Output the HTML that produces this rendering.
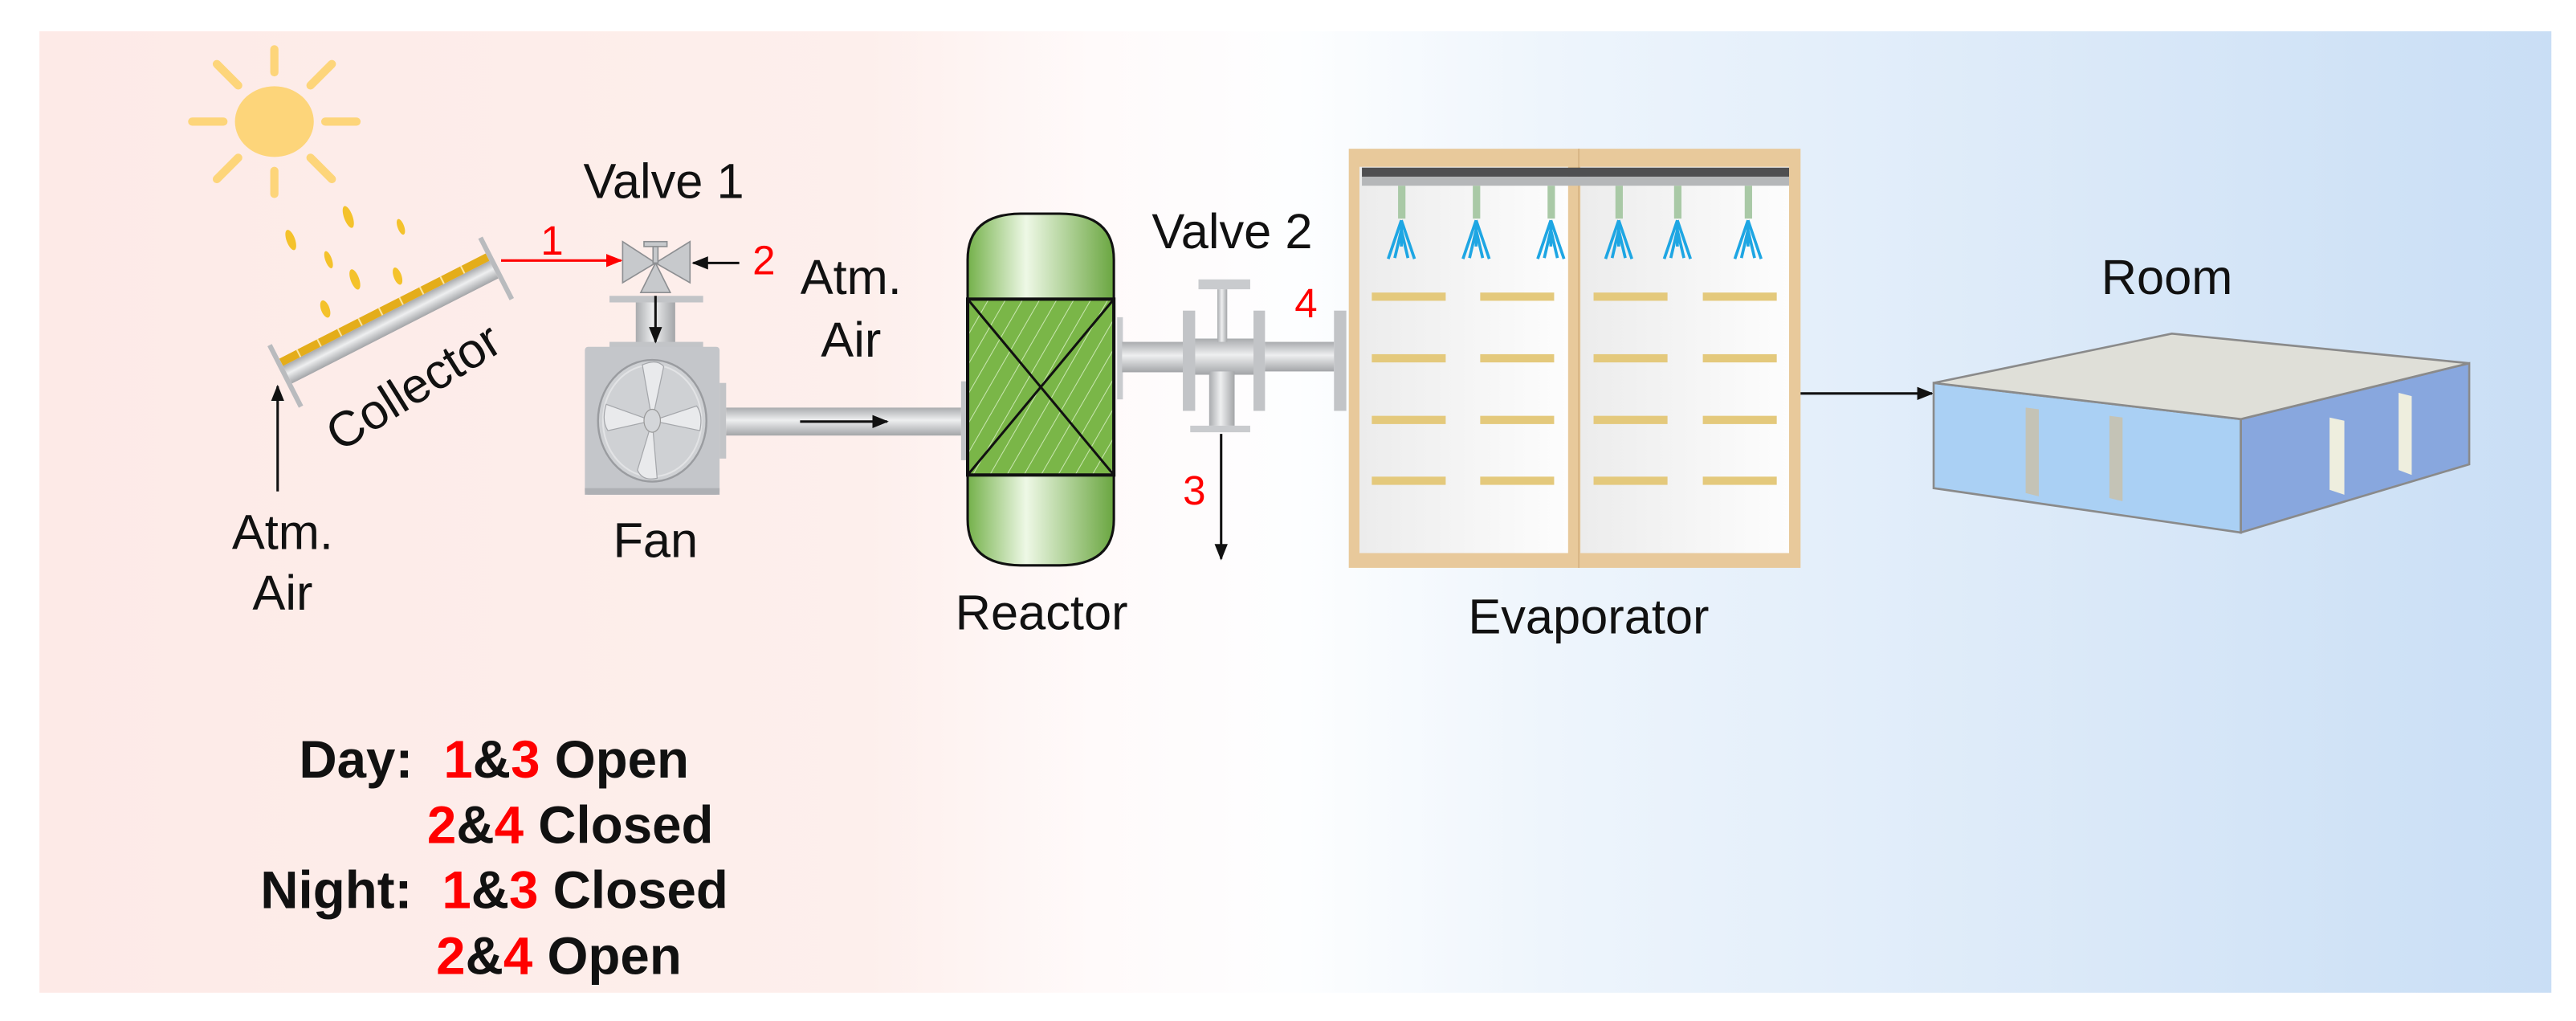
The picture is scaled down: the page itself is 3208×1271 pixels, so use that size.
<!DOCTYPE html>
<html><head><meta charset="utf-8"><style>
html,body{margin:0;padding:0;background:#fff;}
svg{display:block;}
text{font-family:"Liberation Sans",Arial,sans-serif;}
</style></head><body>
<svg width="3208" height="1271" viewBox="0 0 1568 621.2" preserveAspectRatio="none" xmlns="http://www.w3.org/2000/svg">
<defs>
<linearGradient id="bg" x1="0" y1="0" x2="1" y2="0">
<stop offset="0" stop-color="#fdeae7"/><stop offset="0.33" stop-color="#fdefec"/>
<stop offset="0.42" stop-color="#fffafa"/><stop offset="0.5" stop-color="#fdfeff"/>
<stop offset="0.6" stop-color="#eef5fc"/><stop offset="1" stop-color="#c9def5"/></linearGradient>
<linearGradient id="pipeH" x1="0" y1="0" x2="0" y2="1">
<stop offset="0" stop-color="#a9abae"/><stop offset="0.45" stop-color="#eeeff0"/><stop offset="1" stop-color="#a3a5a8"/></linearGradient>
<linearGradient id="pipeV" x1="0" y1="0" x2="1" y2="0">
<stop offset="0" stop-color="#a9abae"/><stop offset="0.45" stop-color="#eeeff0"/><stop offset="1" stop-color="#a3a5a8"/></linearGradient>
<linearGradient id="grn" x1="0" y1="0" x2="1" y2="0">
<stop offset="0" stop-color="#74b14a"/><stop offset="0.4" stop-color="#eef8e6"/><stop offset="1" stop-color="#6aa640"/></linearGradient>
<linearGradient id="inner" x1="0" y1="0" x2="1" y2="0">
<stop offset="0" stop-color="#ececec"/><stop offset="1" stop-color="#fdfdfd"/></linearGradient>
<pattern id="hatch" width="9" height="9" patternUnits="userSpaceOnUse" patternTransform="rotate(30)">
<rect width="9" height="9" fill="#7ab648"/><line x1="0" y1="0" x2="0" y2="9" stroke="#c9e6b0" stroke-width="1"/></pattern>
<marker id="ah" markerWidth="10" markerHeight="10" refX="9" refY="5" orient="auto" markerUnits="userSpaceOnUse"><path d="M0,1 L10,5 L0,9 Z" fill="#111"/></marker>
<marker id="ahr" markerWidth="10" markerHeight="10" refX="9" refY="5" orient="auto" markerUnits="userSpaceOnUse"><path d="M0,1 L10,5 L0,9 Z" fill="#f00"/></marker>
</defs>
<rect x="24" y="19" width="1529" height="585" fill="url(#bg)"/>

<!-- sun -->
<g stroke="#fdd57a" stroke-width="5" stroke-linecap="round" fill="none">
<line x1="198" y1="74" x2="217" y2="74"/><line x1="136" y1="74" x2="117" y2="74"/>
<line x1="167" y1="44" x2="167" y2="30"/><line x1="167" y1="104" x2="167" y2="118"/>
<line x1="189" y1="52" x2="202" y2="39"/><line x1="145" y1="52" x2="132" y2="39"/>
<line x1="189" y1="96" x2="202" y2="109"/><line x1="145" y1="96" x2="132" y2="109"/>
</g>
<ellipse cx="167" cy="74" rx="24" ry="21.5" fill="#fdd57a"/>
<g fill="#f4c22b">
<ellipse cx="212" cy="132" rx="2.6" ry="7" transform="rotate(-20 212 132)"/>
<ellipse cx="244" cy="138" rx="2" ry="5" transform="rotate(-20 244 138)"/>
<ellipse cx="177" cy="146" rx="2.6" ry="6.5" transform="rotate(-20 177 146)"/>
<ellipse cx="200" cy="158" rx="2" ry="5.5" transform="rotate(-20 200 158)"/>
<ellipse cx="216" cy="170" rx="2.6" ry="6.5" transform="rotate(-20 216 170)"/>
<ellipse cx="242" cy="168" rx="2.4" ry="5.5" transform="rotate(-20 242 168)"/>
<ellipse cx="198" cy="188" rx="2.6" ry="5.5" transform="rotate(-20 198 188)"/>
</g>

<!-- collector -->
<g transform="translate(175,228) rotate(-27)">
<rect x="0" y="-6" width="141" height="12" fill="url(#pipeH)"/>
<rect x="0" y="-11" width="141" height="5" fill="#e4ad1a"/>
<g stroke="#fbe5a0" stroke-width="1"><line x1="12" y1="-11" x2="12" y2="-6"/><line x1="26" y1="-11" x2="26" y2="-6"/><line x1="40" y1="-11" x2="40" y2="-6"/><line x1="54" y1="-11" x2="54" y2="-6"/><line x1="68" y1="-11" x2="68" y2="-6"/><line x1="82" y1="-11" x2="82" y2="-6"/><line x1="96" y1="-11" x2="96" y2="-6"/><line x1="110" y1="-11" x2="110" y2="-6"/><line x1="124" y1="-11" x2="124" y2="-6"/></g>
<rect x="-3" y="-21" width="3" height="42" fill="#b9bbbe"/>
<rect x="141" y="-21" width="3" height="42" fill="#b9bbbe"/>
</g>
<text x="0" y="0" font-size="30" fill="#111" text-anchor="middle" transform="translate(257,244) rotate(-32)">Collector</text>
<line x1="169" y1="299" x2="169" y2="235" stroke="#111" stroke-width="1.5" marker-end="url(#ah)"/>
<text x="172" y="334" font-size="30" text-anchor="middle" fill="#111">Atm.</text>
<text x="172" y="371" font-size="30" text-anchor="middle" fill="#111">Air</text>

<!-- valve 1 -->
<text x="404" y="120.5" font-size="30" text-anchor="middle" fill="#111">Valve 1</text>
<line x1="305" y1="158.5" x2="378" y2="158.5" stroke="#f00" stroke-width="1.5" marker-end="url(#ahr)"/>
<text x="336" y="155" font-size="25" text-anchor="middle" fill="#f00">1</text>
<line x1="450" y1="160" x2="422" y2="160" stroke="#111" stroke-width="1.5" marker-end="url(#ah)"/>
<text x="465" y="167" font-size="25" text-anchor="middle" fill="#f00">2</text>
<g fill="#c7c9cc" stroke="#8d8f92" stroke-width="0.8">
<path d="M379,147 L379,172 L399,160 Z"/><path d="M420,147 L420,172 L399,160 Z"/>
<path d="M399,160 L390,178 L408,178 Z"/>
<rect x="397.5" y="150" width="3" height="10"/><rect x="392" y="147" width="14" height="3"/>
</g>
<rect x="387" y="184" width="24" height="25" fill="url(#pipeV)"/>
<rect x="371" y="180" width="57" height="4" fill="#c2c4c7"/>
<rect x="371" y="208" width="57" height="4" fill="#c2c4c7"/>
<line x1="399" y1="180" x2="399" y2="208" stroke="#111" stroke-width="1.5" marker-end="url(#ah)"/>

<!-- fan -->
<rect x="356" y="211" width="82" height="90" rx="2" fill="#c4c6ca"/>
<rect x="356" y="297" width="82" height="4" fill="#aeb0b4"/>
<ellipse cx="397" cy="256" rx="33" ry="37" fill="#cfd1d4" stroke="#9a9ca0" stroke-width="1.2"/>
<ellipse cx="397" cy="256" rx="30" ry="34" fill="none" stroke="#e2e3e5" stroke-width="1"/>
<g fill="#e9eaec" stroke="#a5a7ab" stroke-width="0.6">
<path d="M397,256 L391,222 Q400,218 404,223 Z"/>
<path d="M397,256 L369,246 Q366,256 370,262 Z"/>
<path d="M397,256 L400,291 Q391,293 388,286 Z"/>
<path d="M397,256 L426,262 Q428,252 424,247 Z"/>
</g>
<ellipse cx="397" cy="256" rx="5" ry="7" fill="#d4d6d9" stroke="#999" stroke-width="0.6"/>
<text x="399" y="339" font-size="30" text-anchor="middle" fill="#111">Fan</text>
<rect x="438" y="233" width="4" height="46" fill="#c2c4c7"/>
<rect x="442" y="248" width="143" height="17" fill="url(#pipeH)"/>
<rect x="585" y="232" width="4" height="48" fill="#c2c4c7"/>
<line x1="487" y1="256.5" x2="540" y2="256.5" stroke="#111" stroke-width="1.5" marker-end="url(#ah)"/>
<text x="518" y="179" font-size="30" text-anchor="middle" fill="#111">Atm.</text>
<text x="518" y="217" font-size="30" text-anchor="middle" fill="#111">Air</text>

<!-- reactor -->
<path d="M589,182 L589,158 Q589,130 622,130 L645,130 Q678,130 678,158 L678,182 Z" fill="url(#grn)" stroke="#111" stroke-width="1.5"/>
<path d="M589,289 L589,316 Q589,344 622,344 L645,344 Q678,344 678,316 L678,289 Z" fill="url(#grn)" stroke="#111" stroke-width="1.5"/>
<rect x="589" y="182" width="89" height="107" fill="url(#hatch)" stroke="#111" stroke-width="2"/>
<line x1="589" y1="182" x2="678" y2="289" stroke="#111" stroke-width="1.5"/>
<line x1="678" y1="182" x2="589" y2="289" stroke="#111" stroke-width="1.5"/>
<text x="634" y="383" font-size="30" text-anchor="middle" fill="#111">Reactor</text>

<!-- valve 2 -->
<rect x="680" y="193" width="3.5" height="50" fill="#c9cbce"/>
<rect x="683" y="208" width="38" height="18.5" fill="url(#pipeH)"/>
<rect x="727" y="206" width="37" height="22" fill="url(#pipeH)"/>
<rect x="741" y="176" width="6" height="32" fill="url(#pipeV)"/>
<rect x="729.5" y="170" width="31.5" height="6" fill="#c9cbce"/>
<rect x="736" y="226" width="15.5" height="33" fill="url(#pipeV)"/>
<rect x="724.5" y="259" width="36.5" height="4" fill="#c9cbce"/>
<rect x="720" y="189" width="7.5" height="61" fill="#c2c4c7"/>
<rect x="763" y="189" width="7" height="61" fill="#c2c4c7"/>
<rect x="770" y="208" width="42" height="18" fill="url(#pipeH)"/>
<rect x="812" y="189" width="7.5" height="61" fill="#c2c4c7"/>
<text x="750" y="151" font-size="30" text-anchor="middle" fill="#111">Valve 2</text>
<text x="795" y="193" font-size="25" text-anchor="middle" fill="#f00">4</text>
<line x1="743.3" y1="264" x2="743.3" y2="340" stroke="#111" stroke-width="1.5" marker-end="url(#ah)"/>
<text x="727" y="307" font-size="25" text-anchor="middle" fill="#f00">3</text>

<!-- evaporator -->
<rect x="821" y="90.5" width="275" height="255" fill="#e8c99b"/>
<rect x="827.5" y="101.5" width="127" height="235" fill="url(#inner)"/>
<rect x="962" y="101.5" width="127" height="235" fill="url(#inner)"/>
<line x1="961" y1="90.5" x2="961" y2="345.5" stroke="#d8b585" stroke-width="1"/>
<rect x="829" y="102" width="260" height="5.5" fill="#4f4f51"/>
<rect x="829" y="107.5" width="260" height="5.5" fill="#b5b7b9"/>
<g fill="#e4c97c">
<rect x="835" y="178" width="45" height="5"/><rect x="901" y="178" width="45" height="5"/><rect x="970" y="178" width="45" height="5"/><rect x="1036.5" y="178" width="45" height="5"/>
<rect x="835" y="215.5" width="45" height="5"/><rect x="901" y="215.5" width="45" height="5"/><rect x="970" y="215.5" width="45" height="5"/><rect x="1036.5" y="215.5" width="45" height="5"/>
<rect x="835" y="253" width="45" height="5"/><rect x="901" y="253" width="45" height="5"/><rect x="970" y="253" width="45" height="5"/><rect x="1036.5" y="253" width="45" height="5"/>
<rect x="835" y="290" width="45" height="5"/><rect x="901" y="290" width="45" height="5"/><rect x="970" y="290" width="45" height="5"/><rect x="1036.5" y="290" width="45" height="5"/>
</g>
<g id="nz">
<rect x="851" y="113" width="4.5" height="20" fill="#a9c9a6"/>
<path d="M853,134 L845,157.5 M853,134 L861,157.5 M853,134 L853,150 M853,140 L849,157 M853,140 L857,157" stroke="#1ea6e3" stroke-width="1.8" fill="none"/>
</g>
<use href="#nz" x="45.5"/><use href="#nz" x="91"/><use href="#nz" x="132.3"/><use href="#nz" x="168"/><use href="#nz" x="211"/>
<text x="967" y="385.5" font-size="30" text-anchor="middle" fill="#111">Evaporator</text>

<!-- room -->
<line x1="1096" y1="239.4" x2="1176" y2="239.4" stroke="#111" stroke-width="1.5" marker-end="url(#ah)"/>
<text x="1319" y="179" font-size="30" text-anchor="middle" fill="#111">Room</text>
<polygon points="1177,233 1364,255 1364,324 1177,297" fill="#aad0f4" stroke="#8a8a8a" stroke-width="1.3"/>
<polygon points="1364,255 1503,221 1503,282.5 1364,324" fill="#88a7de" stroke="#8a8a8a" stroke-width="1.3"/>
<polygon points="1177,233 1322,203 1503,221 1364,255" fill="#dfdfd8" stroke="#8a8a8a" stroke-width="1.3"/>
<polygon points="1233,248 1241,249 1241,302 1233,300" fill="#c4c3b6"/>
<polygon points="1284,253 1292,254 1292,305 1284,303" fill="#c4c3b6"/>
<polygon points="1418,254 1427,256 1427,301 1418,298" fill="#eeeede"/>
<polygon points="1460,239 1468,241 1468,289 1460,286" fill="#eeeede"/>

<!-- legend -->
<g font-size="32" font-weight="bold" fill="#111">
<text x="182" y="473">Day:</text>
<text x="270" y="473"><tspan fill="#f00">1</tspan>&amp;<tspan fill="#f00">3</tspan> Open</text>
<text x="260" y="513"><tspan fill="#f00">2</tspan>&amp;<tspan fill="#f00">4</tspan> Closed</text>
<text x="158.5" y="552.5">Night:</text>
<text x="269" y="552.5"><tspan fill="#f00">1</tspan>&amp;<tspan fill="#f00">3</tspan> Closed</text>
<text x="265.5" y="592.5"><tspan fill="#f00">2</tspan>&amp;<tspan fill="#f00">4</tspan> Open</text>
</g>
</svg>
</body></html>
